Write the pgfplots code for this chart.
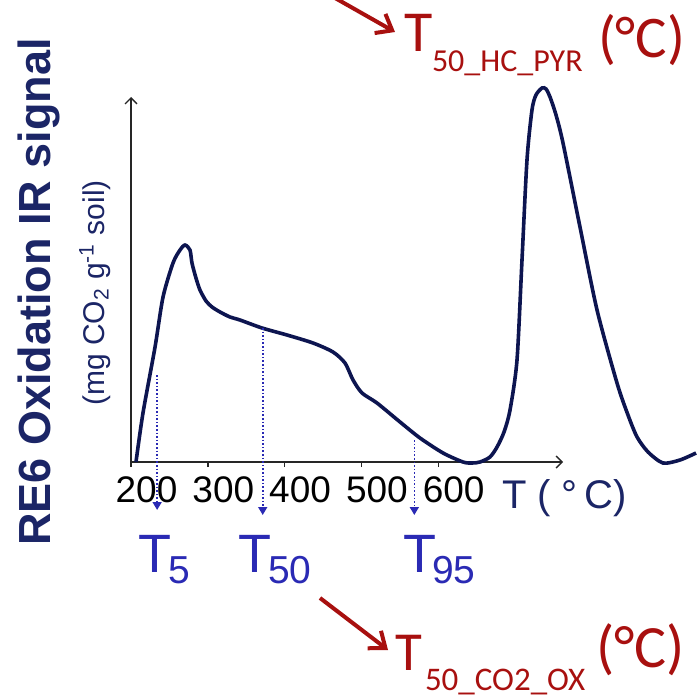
\documentclass[border=0pt]{standalone}
\usepackage{pgfplots}
\pgfplotsset{compat=1.18}
\usetikzlibrary{arrows.meta}
\usepackage{fontspec}
\setmainfont{Liberation Sans}
\newfontfamily\calibri{Carlito}
\definecolor{curve}{HTML}{0D1550}
\definecolor{navy}{HTML}{1B2566}
\definecolor{tblue}{HTML}{2A2AB4}
\definecolor{dred}{HTML}{A8100F}

\begin{document}
\begin{tikzpicture}
\begin{axis}[
  at={(65.5pt,-231pt)}, anchor=south west,
  scale only axis, width=216pt, height=182.5pt,
  xmin=200, xmax=762.5, ymin=0, ymax=365,
  axis lines=left, clip=false,
  axis line style={black!85, line width=0.7pt, -{Straight Barb[length=3pt,width=6pt]}},
  xtick={200,300,400,500,600},
  xticklabels={200,300,400,500,600},
  ytick=\empty,
  tick align=outside, major tick length=2.5pt,
  tick style={black!85, line width=0.7pt},
  xticklabel style={font=\fontsize{18.5}{20}\selectfont, anchor=base, xshift=7.75pt, yshift=-17.5pt},
]
\addplot[curve, line width=1.8pt, smooth, tension=0.45] coordinates {
  (206.5,0) (215.6,49) (231.3,115) (241.7,165) (254.7,199) (263.8,212)
  (270.3,217) (276.8,212) (279.4,199) (284.6,184) (289.8,172) (297.7,161)
  (305.5,155) (315.9,150) (328.9,145) (341.9,142) (370.6,134) (403.1,127)
  (437.0,119) (463.0,110) (478.6,99) (489.1,82) (500.8,69) (520.3,59)
  (550.3,40) (576.3,24) (606.3,9) (632.3,0) (644,-1) (654.4,0) (667.4,5)
  (676.6,15) (685.7,30) (693.5,52) (702.6,102) (709.1,202) (715.6,302)
  (722.1,352) (727.3,367) (735.2,374) (740.4,373) (745.6,365) (753.4,347)
  (762.5,319) (784.6,235) (806.8,152) (832.8,79) (847.1,47) (858.9,25)
  (873.2,10) (892.7,-1) (914.8,2) (935.7,9)
};
\draw[tblue, densely dotted, line width=0.8pt, -{Triangle[length=4pt,width=4.5pt]}] (axis cs:234,87) -- (axis cs:234,-48);
\draw[tblue, densely dotted, line width=0.8pt, -{Triangle[length=4pt,width=4.5pt]}] (axis cs:371.5,134) -- (axis cs:371.5,-53);
\draw[tblue, densely dotted, line width=0.8pt, -{Triangle[length=4pt,width=4.5pt]}] (axis cs:568.9,22) -- (axis cs:568.9,-53);
\end{axis}
\begin{scope}[x=0.5pt, y=-0.5pt, every node/.style={inner sep=0pt, outer sep=0pt}]
  % y labels
  \node[navy, rotate=90, anchor=base] at (50,292) {\bfseries\fontsize{22.5}{26}\selectfont RE6 Oxidation IR signal};
  \node[navy, rotate=90, anchor=base] at (104,293) {\fontsize{15}{17}\selectfont (mg CO\textsubscript{2} g\textsuperscript{-1} soil)};
  % x axis name
  \node[navy, anchor=base west] at (502,508) {\fontsize{20}{22}\selectfont T ( \textdegree\,C)};
  % T5 T50 T95
  \node[tblue, anchor=base west] at (138,572) {\fontsize{27}{30}\selectfont T};
  \node[tblue, anchor=base west] at (168,583) {\fontsize{19.5}{22}\selectfont 5};
  \node[tblue, anchor=base west] at (238,572) {\fontsize{27}{30}\selectfont T};
  \node[tblue, anchor=base west] at (268,583) {\fontsize{19.5}{22}\selectfont 50};
  \node[tblue, anchor=base west] at (403,572) {\fontsize{27}{30}\selectfont T};
  \node[tblue, anchor=base west] at (432,583) {\fontsize{19.5}{22}\selectfont 95};
  % red annotations
  \draw[dred, line width=2pt, -{Straight Barb[length=7pt,width=11pt,line width=2pt]}] (328,-6) -- (395,32);
  \node[dred, anchor=base west] at (404,52) {\calibri\fontsize{29}{32}\selectfont T};
  \node[dred, anchor=base west] at (432,72) {\calibri\fontsize{16}{18}\selectfont 50\_HC\_PYR};
  \node[dred, anchor=base west] at (598,58) {\calibri\fontsize{29.5}{32}\selectfont (\textdegree C)};
  \draw[dred, line width=2pt, -{Straight Barb[length=7pt,width=11pt,line width=2pt]}] (320,598) -- (388,650);
  \node[dred, anchor=base west] at (395,670) {\calibri\fontsize{27.5}{30}\selectfont T};
  \node[dred, anchor=base west] at (425,690) {\calibri\fontsize{16.5}{18}\selectfont 50\_CO2\_OX};
  \node[dred, anchor=base west] at (596,667) {\calibri\fontsize{30}{32}\selectfont (\textdegree C)};
\end{scope}
\pgfresetboundingbox
\path (0,0) rectangle (348pt,-350pt);
\end{tikzpicture}
\end{document}
